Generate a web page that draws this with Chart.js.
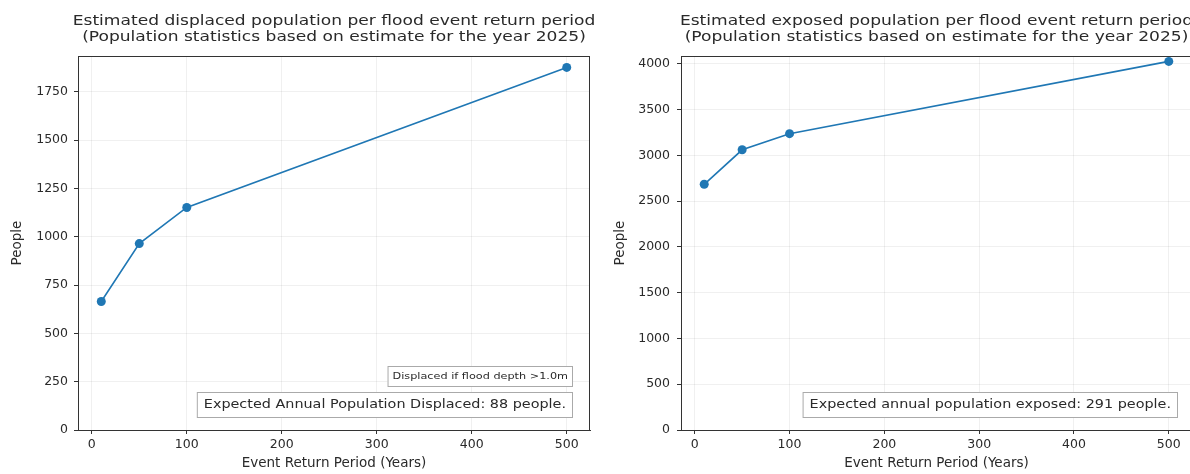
<!DOCTYPE html>
<html>
<head>
<meta charset="utf-8">
<script src="https://cdn.jsdelivr.net/npm/chart.js@4"></script>
<style>
  html, body { margin: 0; padding: 0; background: #fff; overflow: hidden; }
  #wrap { position: relative; width: 1190px; height: 474px; overflow: hidden; }
  .pane { position: absolute; top: 0; height: 474px; }
  #left  { left: 0;     width: 600px; }
  #right { left: 600px; width: 610px; }
</style>
</head>
<body>
<div id="wrap">
  <div class="pane" id="left"><canvas id="displacedChart"></canvas></div>
  <div class="pane" id="right"><canvas id="exposedChart"></canvas></div>
</div>
<script>
// ── Data ──────────────────────────────────────────────────
const RETURN_PERIODS = [10, 50, 100, 500];
const DISPLACED      = [665, 965, 1152, 1877];
const EXPOSED        = [2685, 3062, 3238, 4028];

const DISPLACED_TITLE = ['Estimated displaced population per flood event return period',
                         '(Population statistics based on estimate for the year 2025)'];
const EXPOSED_TITLE   = ['Estimated exposed population per flood event return period',
                         '(Population statistics based on estimate for the year 2025)'];
const DISPLACED_NOTES = ['Displaced if flood depth >1.0m',
                         'Expected Annual Population Displaced: 88 people.'];
const EXPOSED_NOTES   = ['Expected annual population exposed: 291 people.'];

const X_LABEL = 'Event Return Period (Years)';
const Y_LABEL = 'People';

// ── Shared style ──────────────────────────────────────────
const FONT  = "'DejaVu Sans', sans-serif";
const INK   = '#2a2a2a';
const BLUE  = '#1f77b4';
const GRID  = 'rgba(0,0,0,0.06)';
const TICK_FONT  = { size: 12.5, family: FONT };
const LABEL_FONT = { size: 13.5, family: FONT };

// text drawn a little wider than the font, like the reference
function wideText(ctx, text, x, y, sx) {
  ctx.save();
  ctx.translate(x, y);
  ctx.scale(sx, 1);
  ctx.fillText(text, 0, 0);
  ctx.restore();
}

// frame, titles and the little annotation boxes
const decorations = {
  id: 'decorations',
  afterDraw(chart, args, o) {
    const { ctx, chartArea: a } = chart;
    ctx.save();
    ctx.strokeStyle = '#333';
    ctx.lineWidth = 1;
    ctx.strokeRect(a.left + 0.5, a.top + 0.5, a.right - a.left - 1, a.bottom - a.top);

    ctx.fillStyle = INK;
    ctx.textAlign = 'center';
    ctx.textBaseline = 'middle';
    ctx.font = `14px ${FONT}`;
    const cx = (a.left + a.right) / 2;
    o.title.forEach((t, i) => wideText(ctx, t, cx, 21 + i * 16, 1.22));

    // notes, stacked upward from the bottom-right corner
    let bottom = a.bottom - 12;
    o.notes.slice().reverse().forEach((n, i) => {
      const big = (i === 0);
      const sx = big ? 1.15 : 1.25;
      ctx.font = `${big ? 12.5 : 9}px ${FONT}`;
      const w = ctx.measureText(n).width * sx + (big ? 14 : 10);
      const h = big ? 26 : 21;
      const right = a.right - o.noteInset;
      ctx.fillStyle = '#fff';
      ctx.fillRect(right - w, bottom - h, w, h);
      ctx.strokeStyle = '#aaa';
      ctx.strokeRect(right - w + 0.5, bottom - h + 0.5, w - 1, h - 1);
      ctx.fillStyle = INK;
      wideText(ctx, n, right - w / 2, bottom - h / 2, sx);
      bottom -= h + 5;
    });
    ctx.restore();
  },
};

function makeChart(canvasId, values, cfg) {
  const canvas = document.getElementById(canvasId);
  return new Chart(canvas, {
    type: 'line',
    data: {
      datasets: [{
        data: RETURN_PERIODS.map((x, i) => ({ x, y: values[i] })),
        borderColor: BLUE, backgroundColor: BLUE,
        borderWidth: 1.6, pointRadius: 4.5, pointBorderWidth: 0,
      }],
    },
    plugins: [decorations],
    options: {
      responsive: true,
      maintainAspectRatio: false,
      animation: false,
      layout: { padding: { top: 56, right: cfg.padRight, left: 0, bottom: 0 } },
      plugins: {
        legend: { display: false },
        tooltip: { enabled: false },
        decorations: { title: cfg.title, notes: cfg.notes, noteInset: cfg.noteInset },
      },
      scales: {
        x: {
          type: 'linear', min: -14.5, max: 524.5,
          afterFit: s => { s.height = 44; },
          border: { color: '#333' },
          grid: { color: GRID, tickColor: '#333', tickLength: 4 },
          ticks: { stepSize: 100, includeBounds: false, color: INK, padding: 3, font: TICK_FONT },
          title: { display: true, text: X_LABEL, color: INK, font: LABEL_FONT, padding: { top: 0, bottom: 2 } },
        },
        y: {
          min: 0, max: cfg.yMax,
          afterFit: s => { s.width = cfg.axisWidth; },
          afterBuildTicks: s => {
            s.ticks = [];
            for (let v = 0; v <= s.max; v += cfg.yStep) s.ticks.push({ value: v });
          },
          border: { color: '#333' },
          grid: { color: GRID, tickColor: '#333', tickLength: 4 },
          ticks: { color: INK, padding: cfg.yTickPad, font: TICK_FONT, callback: v => String(v) },
          title: { display: true, text: Y_LABEL, color: INK, font: LABEL_FONT, padding: { top: cfg.yTitlePad, bottom: 0 } },
        },
      },
    },
  });
}

makeChart('displacedChart', DISPLACED, {
  title: DISPLACED_TITLE, notes: DISPLACED_NOTES, noteInset: 17,
  yMax: 1936, yStep: 250, axisWidth: 78, padRight: 10, yTitlePad: 9, yTickPad: 6,
});
makeChart('exposedChart', EXPOSED, {
  title: EXPOSED_TITLE, notes: EXPOSED_NOTES, noteInset: 14,
  yMax: 4087, yStep: 500, axisWidth: 81, padRight: 18, yTitlePad: 12, yTickPad: 7,
});
</script>
</body>
</html>
